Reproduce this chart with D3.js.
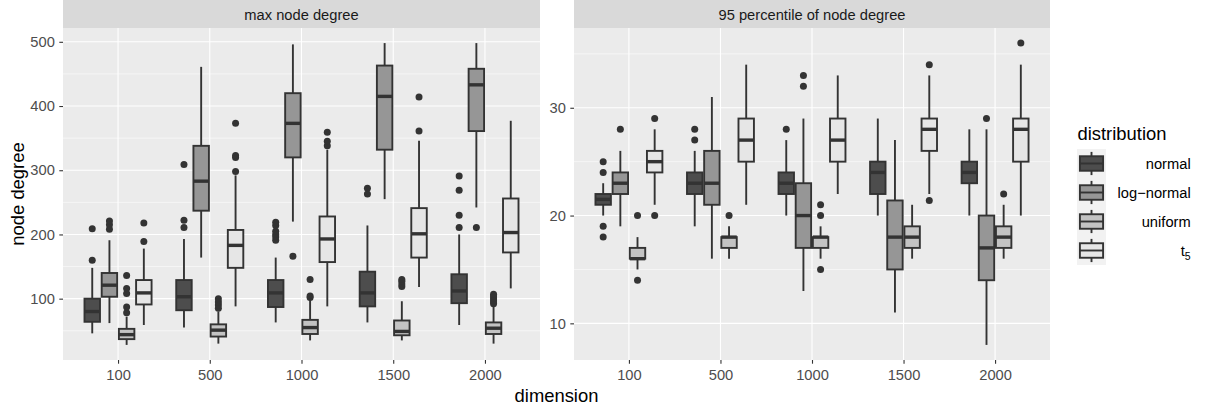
<!DOCTYPE html>
<html>
<head>
<meta charset="utf-8">
<script src="https://cdn.jsdelivr.net/npm/d3@7"></script>
<style>
  body { margin: 0; background: #fff; }
  text { font-family: "Liberation Sans", Arial, sans-serif; }
</style>
</head>
<body>
<div id="chart"></div>
<script>
'use strict';

// categories
const dimensions = ['100', '500', '1000', '1500', '2000'];
const distributions = ['normal', 'log-normal', 'uniform', 't5'];
const distLabels = ['normal', 'log\u2212normal', 'uniform', 't'];

// max node degree: [lower whisker, q1, median, q3, upper whisker] per dimension
const maxNormal = [[46, 64, 80, 100, 148], [55, 82, 103, 129, 193], [63, 87, 109, 129, 164], [63, 88, 109, 142, 214], [59, 93, 112, 138, 200]];
const maxNormalOut = [[160, 209], [211, 222, 309], [191, 196, 200, 205, 214, 219], [263, 272], [211, 230, 269, 291]];
const maxLogNormal = [[62, 103, 121, 140, 191], [164, 237, 283, 338, 461], [220, 320, 373, 420, 496], [255, 332, 415, 463, 498], [242, 361, 433, 458, 498]];
const maxLogNormalOut = [[208, 215, 221], [], [166], [], [211]];
const maxUniform = [[28, 37, 44, 53, 72], [30, 41, 51, 60, 80], [35, 45, 55, 67, 98], [35, 43, 49, 66, 96], [30, 45, 54, 63, 88]];
const maxUniformOut = [[78, 87, 108, 116, 136], [85, 90, 95, 100], [102, 104, 130], [119, 123, 127, 130], [92, 95, 98, 101, 104, 107]];
const maxT5 = [[59, 91, 109, 129, 178], [88, 148, 183, 207, 292], [88, 157, 193, 228, 332], [118, 164, 201, 241, 346], [116, 172, 203, 256, 377]];
const maxT5Out = [[189, 218], [298, 320, 323, 373], [338, 345, 359], [361, 414], []];

// 95 percentile of node degree
const p95Normal = [[20, 21, 21.5, 22, 23], [19, 22, 23, 24, 26], [20, 22, 23, 24, 27], [20, 22, 24, 25, 29], [20, 23, 24, 25, 28]];
const p95NormalOut = [[18, 19, 24, 25], [27, 28], [28], [], []];
const p95LogNormal = [[19, 22, 23, 24, 26], [16, 21, 23, 26, 31], [13, 17, 20, 23, 29], [11, 15, 18, 21.4, 27], [8, 14, 17, 20, 28]];
const p95LogNormalOut = [[28], [], [32, 33], [], [29]];
const p95Uniform = [[15, 16, 16, 17, 18], [16, 17, 18, 18, 19], [16, 17, 18, 18, 19], [16, 17, 18, 19, 21], [16, 17, 18, 19, 21]];
const p95UniformOut = [[14, 20], [20], [15, 20, 21], [], [22]];
const p95T5 = [[21, 24, 25, 26, 28], [21, 25, 27, 29, 34], [22, 25, 27, 29, 33], [22, 26, 28, 29, 33], [20, 25, 28, 29, 34]];
const p95T5Out = [[20, 29], [], [], [21.4, 34], [36]];

// tick labels
const maxTicks = [100, 200, 300, 400, 500];
const p95Ticks = [10, 20, 30];

const fills = ['#4D4D4D', '#969696', '#C3C3C3', '#E6E6E6'];
const line_color = '#333333';
const small_font = '14.7px', big_font = '18.4px';

// build rows for each panel
function build_rows(stats, outs){
    const rows = [];
    distributions.forEach((dist, k) => {
        dimensions.forEach((dim, i) => {
            const s = stats[k][i];
            rows.push({dim: dim, dist: dist, k: k, lo: s[0], q1: s[1], med: s[2], q3: s[3], hi: s[4], out: outs[k][i]});
        });
    });
    return rows;
}

const panels = [
    {title: 'max node degree', x0: 63, x1: 540, ticks: maxTicks,
     rows: build_rows([maxNormal, maxLogNormal, maxUniform, maxT5], [maxNormalOut, maxLogNormalOut, maxUniformOut, maxT5Out])},
    {title: '95 percentile of node degree', x0: 574, x1: 1050, ticks: p95Ticks,
     rows: build_rows([p95Normal, p95LogNormal, p95Uniform, p95T5], [p95NormalOut, p95LogNormalOut, p95UniformOut, p95T5Out])}
];

const W = 1205, H = 411;
const strip_top = 0, panel_top = 28, panel_bottom = 360;

const svg = d3.select('#chart').append('svg')
    .attr('width', W)
    .attr('height', H);

panels.forEach(p => {
    // scales
    const x = d3.scalePoint().domain(dimensions).range([p.x0, p.x1]).padding(0.6);
    const step = x.step();
    const dodge = d3.scaleBand().domain(distributions).range([-0.375 * step, 0.375 * step]);
    const bw = dodge.bandwidth() * 0.9;

    const all_vals = [];
    p.rows.forEach(r => { all_vals.push(r.lo, r.hi, ...r.out); });
    const lo = d3.min(all_vals), hi = d3.max(all_vals);
    const pad = (hi - lo) * 0.05;
    const y = d3.scaleLinear().domain([lo - pad, hi + pad]).range([panel_bottom, panel_top]);

    const g = svg.append('g');

    // strip
    g.append('rect')
        .attr('x', p.x0).attr('y', strip_top)
        .attr('width', p.x1 - p.x0).attr('height', panel_top - strip_top)
        .attr('fill', '#D9D9D9');
    g.append('text')
        .attr('x', (p.x0 + p.x1) / 2).attr('y', 19.5)
        .attr('text-anchor', 'middle')
        .attr('font-size', small_font)
        .attr('fill', '#1A1A1A')
        .text(p.title);

    // panel background
    g.append('rect')
        .attr('x', p.x0).attr('y', panel_top)
        .attr('width', p.x1 - p.x0).attr('height', panel_bottom - panel_top)
        .attr('fill', '#EBEBEB');

    // minor grid
    const tstep = p.ticks[1] - p.ticks[0];
    const minor = [p.ticks[0] - tstep / 2].concat(p.ticks.map(t => t + tstep / 2))
        .filter(v => y(v) > panel_top && y(v) < panel_bottom);
    g.selectAll('.minor').data(minor).enter().append('line')
        .attr('x1', p.x0).attr('x2', p.x1)
        .attr('y1', d => y(d)).attr('y2', d => y(d))
        .attr('stroke', '#fff').attr('stroke-width', 0.55);

    // major grid
    g.selectAll('.majory').data(p.ticks).enter().append('line')
        .attr('x1', p.x0).attr('x2', p.x1)
        .attr('y1', d => y(d)).attr('y2', d => y(d))
        .attr('stroke', '#fff').attr('stroke-width', 1.1);
    g.selectAll('.majorx').data(dimensions).enter().append('line')
        .attr('x1', d => x(d)).attr('x2', d => x(d))
        .attr('y1', panel_top).attr('y2', panel_bottom)
        .attr('stroke', '#fff').attr('stroke-width', 1.1);

    // boxes
    const box = g.selectAll('.box').data(p.rows).enter().append('g');
    const cx = d => x(d.dim) + dodge(d.dist) + dodge.bandwidth() / 2;

    box.each(function(d){
        d3.select(this).selectAll('circle').data(d.out).enter().append('circle')
            .attr('cx', cx(d)).attr('cy', v => y(v)).attr('r', 3.5)
            .attr('fill', line_color);
    });
    box.append('line')
        .attr('x1', cx).attr('x2', cx)
        .attr('y1', d => y(d.hi)).attr('y2', d => y(d.q3))
        .attr('stroke', line_color).attr('stroke-width', 1.9);
    box.append('line')
        .attr('x1', cx).attr('x2', cx)
        .attr('y1', d => y(d.q1)).attr('y2', d => y(d.lo))
        .attr('stroke', line_color).attr('stroke-width', 1.9);
    box.append('rect')
        .attr('x', d => cx(d) - bw / 2).attr('width', bw)
        .attr('y', d => y(d.q3)).attr('height', d => y(d.q1) - y(d.q3))
        .attr('fill', d => fills[d.k])
        .attr('stroke', line_color).attr('stroke-width', 1.9);
    box.append('line')
        .attr('x1', d => cx(d) - bw / 2).attr('x2', d => cx(d) + bw / 2)
        .attr('y1', d => y(d.med)).attr('y2', d => y(d.med))
        .attr('stroke', line_color).attr('stroke-width', 3.4);

    // axes
    const ya = svg.append('g')
        .attr('transform', `translate(${p.x0},0)`)
        .call(d3.axisLeft(y).tickValues(p.ticks).tickSize(3.7).tickPadding(4.5));
    const xa = svg.append('g')
        .attr('transform', `translate(0,${panel_bottom})`)
        .call(d3.axisBottom(x).tickSize(3.7).tickPadding(6));
    [ya, xa].forEach(a => {
        a.select('.domain').remove();
        a.selectAll('line').attr('stroke', line_color).attr('stroke-width', 1.1);
        a.selectAll('text').attr('fill', '#4D4D4D').attr('font-size', small_font)
            .attr('font-family', '"Liberation Sans", Arial, sans-serif');
    });
});

// axis titles
svg.append('text')
    .attr('transform', `translate(24,${(panel_top + panel_bottom) / 2}) rotate(-90)`)
    .attr('text-anchor', 'middle')
    .attr('font-size', big_font)
    .attr('fill', '#000')
    .text('node degree');

svg.append('text')
    .attr('x', (63 + 1050) / 2).attr('y', 401.5)
    .attr('text-anchor', 'middle')
    .attr('font-size', big_font)
    .attr('fill', '#000')
    .text('dimension');

// legend
const key = 29, key_x = 1077, key_y = 149;
const legend = svg.append('g');
legend.append('text')
    .attr('x', 1077.5).attr('y', 139.5)
    .attr('font-size', big_font)
    .attr('fill', '#000')
    .text('distribution');

const items = legend.selectAll('.item').data(distributions).enter().append('g')
    .attr('transform', (d, i) => `translate(${key_x},${key_y + i * key})`);
items.append('rect')
    .attr('width', key).attr('height', key)
    .attr('fill', '#F2F2F2');
items.append('line')
    .attr('x1', key / 2).attr('x2', key / 2)
    .attr('y1', key * 0.1).attr('y2', key * 0.9)
    .attr('stroke', line_color).attr('stroke-width', 1.9);
items.append('rect')
    .attr('x', key * 0.1).attr('y', key * 0.25)
    .attr('width', key * 0.8).attr('height', key * 0.5)
    .attr('fill', (d, i) => fills[i])
    .attr('stroke', line_color).attr('stroke-width', 1.9);
items.append('line')
    .attr('x1', key * 0.1).attr('x2', key * 0.9)
    .attr('y1', key / 2).attr('y2', key / 2)
    .attr('stroke', line_color).attr('stroke-width', 1.9);
const labels = items.append('text')
    .attr('x', 1190.7 - key_x).attr('y', key / 2 + 5.5)
    .attr('text-anchor', 'end')
    .attr('font-size', small_font)
    .attr('fill', '#000')
    .text((d, i) => distLabels[i]);
labels.filter(d => d === 't5').append('tspan')
    .attr('dy', 3.5).attr('font-size', '10.5px')
    .text('5');
</script>
</body>
</html>
